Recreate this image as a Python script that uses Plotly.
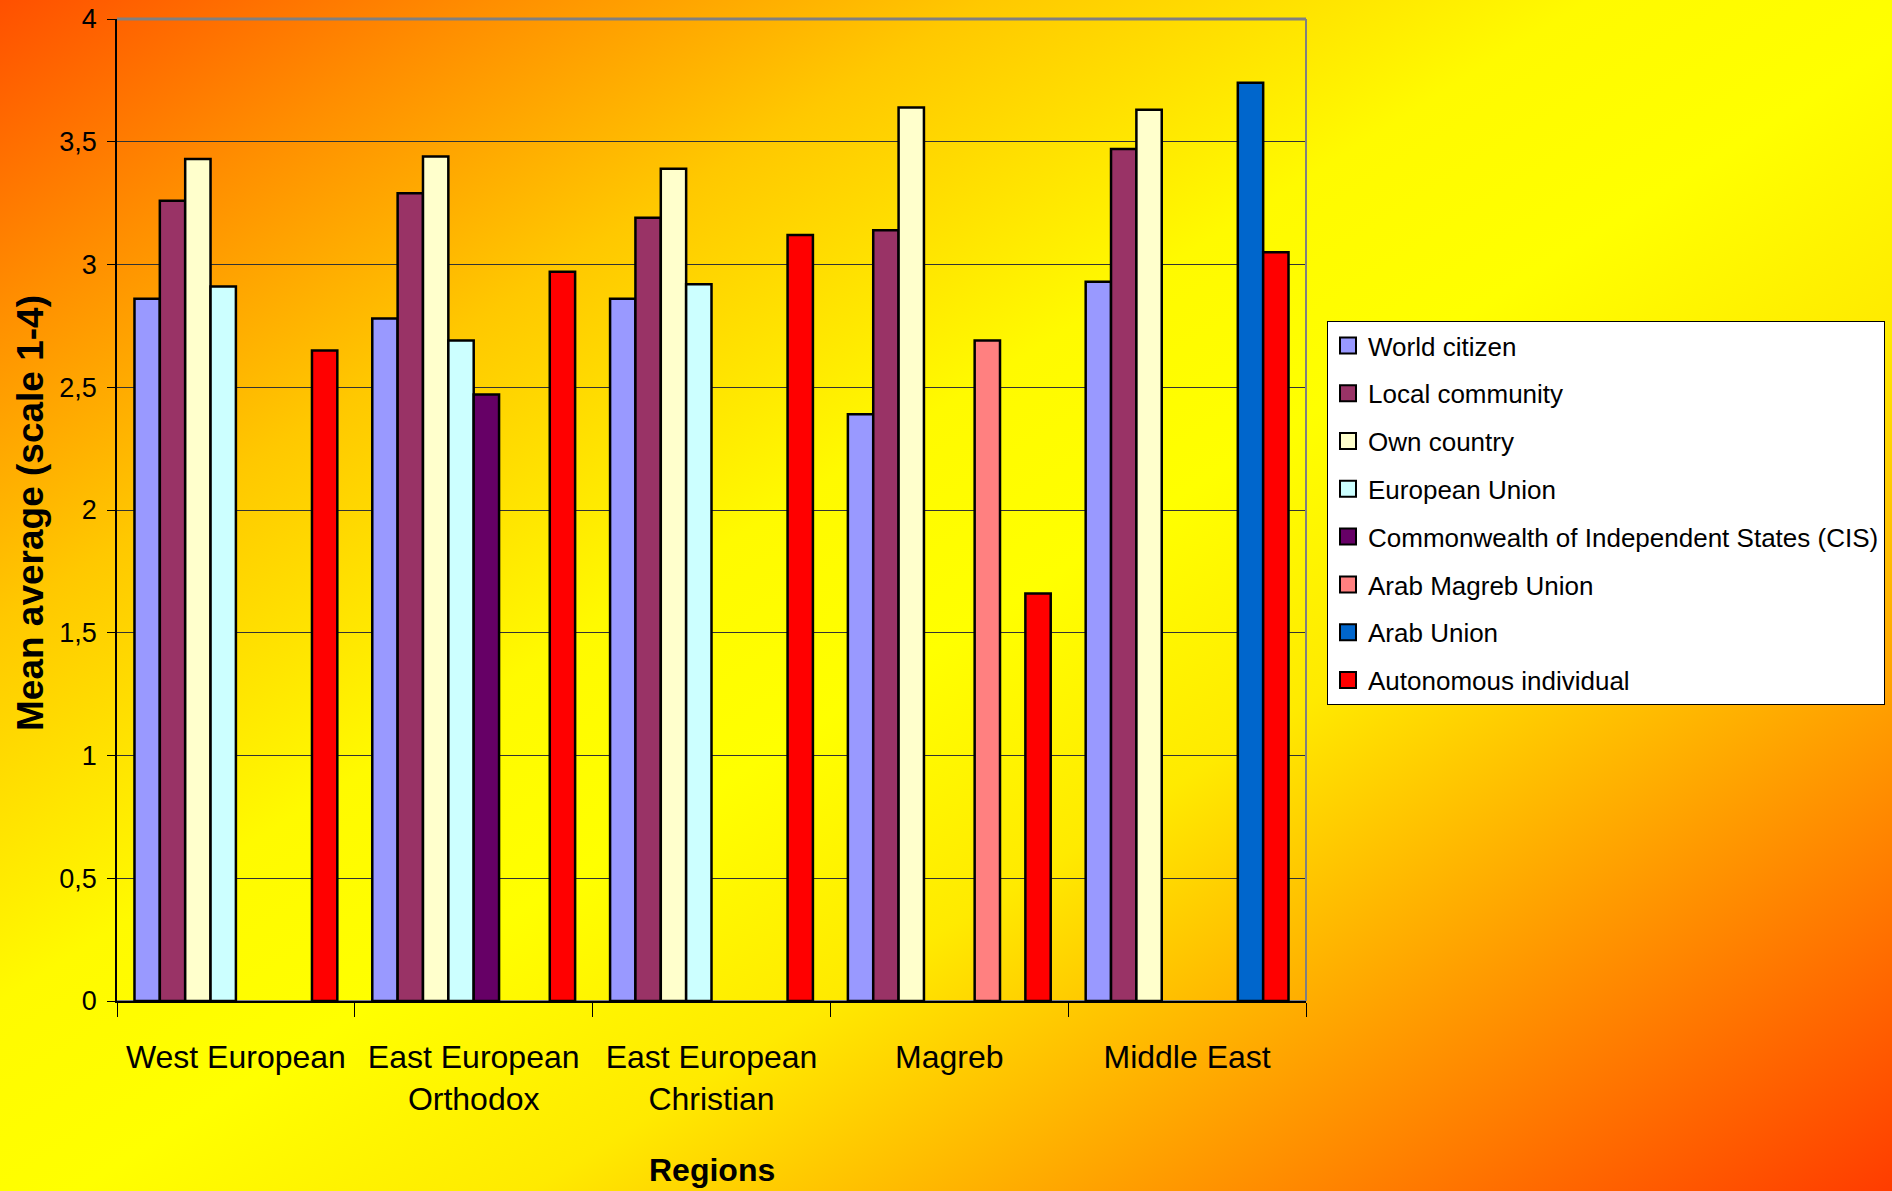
import base64
import plotly.graph_objects as go

regions = ["West European", "East European<br>Orthodox", "East European<br>Christian", "Magreb", "Middle East"]

world_citizen = [2.86, 2.78, 2.86, 2.39, 2.93]
local_community = [3.26, 3.29, 3.19, 3.14, 3.47]
own_country = [3.43, 3.44, 3.39, 3.64, 3.63]
european_union = [2.91, 2.69, 2.92, None, None]
cis = [None, 2.47, None, None, None]
arab_magreb_union = [None, None, None, 2.69, None]
arab_union = [None, None, None, None, 3.74]
autonomous_individual = [2.65, 2.97, 3.12, 1.66, 3.05]

series = [
    ("World citizen", world_citizen, "#9999FF"),
    ("Local community", local_community, "#993366"),
    ("Own country", own_country, "#FFFFCC"),
    ("European Union", european_union, "#CCFFFF"),
    ("Commonwealth of Independent States (CIS)", cis, "#660066"),
    ("Arab Magreb Union", arab_magreb_union, "#FF8080"),
    ("Arab Union", arab_union, "#0066CC"),
    ("Autonomous individual", autonomous_individual, "#FF0000"),
]

W, H = 1892, 1191
L, R, T, B = 117, 586, 19, 190
pw, ph = W - L - R, H - T - B

svg = f"""<svg xmlns='http://www.w3.org/2000/svg' width='{W}' height='{H}' viewBox='0 0 {W} {H}' preserveAspectRatio='none'>
<defs><linearGradient id='g' x1='0' y1='0' x2='1' y2='1'>
<stop offset='0' stop-color='#FF5000'/>
<stop offset='0.13' stop-color='#FF8E00'/>
<stop offset='0.26' stop-color='#FFC800'/>
<stop offset='0.42' stop-color='#FFFA00'/>
<stop offset='0.52' stop-color='#FFFF00'/>
<stop offset='0.64' stop-color='#FFEA00'/>
<stop offset='0.80' stop-color='#FF9C00'/>
<stop offset='1' stop-color='#FF3C00'/>
</linearGradient></defs>
<rect x='0' y='0' width='{W}' height='{H}' fill='url(#g)'/></svg>"""
src = "data:image/svg+xml;base64," + base64.b64encode(svg.encode()).decode()

sans = "Liberation Sans, Arial, sans-serif"

fig = go.Figure()
for name, vals, col in series:
    fig.add_trace(go.Bar(
        name=name, x=regions, y=vals, showlegend=False,
        marker=dict(color=col, line=dict(color="black", width=2.5)),
    ))
for name, vals, col in series:
    fig.add_trace(go.Scatter(
        name=name, x=[None], y=[None], mode="markers", legendgroup=name,
        marker=dict(symbol="square", size=16, color=col, line=dict(color="black", width=2)),
        hoverinfo="skip",
    ))


def px_x(px):
    return (px - L) / pw


def px_y(py):
    return (H - B - py) / ph


fig.update_layout(
    width=W, height=H,
    margin=dict(l=L, r=R, t=T, b=B, autoexpand=False),
    barmode="group", bargap=0.147, bargroupgap=0,
    paper_bgcolor="#FFFF00", plot_bgcolor="#C0C0C0",
    separators=",.",
    font=dict(family=sans, color="black", size=28),
    showlegend=True,
    legend=dict(
        x=px_x(1327), xanchor="left",
        y=px_y(321), yanchor="top",
        bgcolor="white", bordercolor="black", borderwidth=1,
        font=dict(family=sans, size=26),
        tracegroupgap=11, itemsizing="trace", itemwidth=30,
    ),
    images=[dict(source=src, xref="paper", yref="paper",
                 x=-L / pw, y=1 + T / ph, sizex=W / pw, sizey=H / ph,
                 xanchor="left", yanchor="top", sizing="stretch", layer="below")],
    xaxis=dict(
        showline=True, linecolor="black", linewidth=1.5,
        ticks="outside", tickson="boundaries", ticklen=14, tickcolor="black",
        tickfont=dict(family=sans, size=32), ticklabelstandoff=27,
        showgrid=False,
    ),
    yaxis=dict(
        range=[0, 4], dtick=0.5, tick0=0,
        showline=True, linecolor="black", linewidth=1.5,
        ticks="outside", ticklen=8, tickcolor="black",
        tickfont=dict(family=sans, size=27), ticklabelstandoff=5,
        showgrid=True, gridcolor="#333333", gridwidth=1,
        zeroline=True, zerolinecolor="#808080", zerolinewidth=2,
    ),
    annotations=[
        dict(text="<b>Mean average (scale 1-4)</b>", textangle=-90,
             xref="paper", yref="paper", x=px_x(30), y=px_y(513),
             xanchor="center", yanchor="middle", showarrow=False,
             font=dict(family=sans, size=37, color="black")),
        dict(text="<b>Regions</b>",
             xref="paper", yref="paper", x=0.5, y=px_y(1170),
             xanchor="center", yanchor="middle", showarrow=False,
             font=dict(family=sans, size=32, color="black")),
    ],
    shapes=[
        dict(type="line", xref="paper", yref="paper", x0=0, x1=1, y0=1, y1=1,
             line=dict(color="#808080", width=3), layer="above"),
        dict(type="line", xref="paper", yref="paper", x0=1, x1=1, y0=0, y1=1,
             line=dict(color="#808080", width=2), layer="above"),
    ],
)

fig.write_html("out.html", config={"displayModeBar": False},
               post_script="document.body.style.margin='0';document.body.style.overflow='hidden';")
